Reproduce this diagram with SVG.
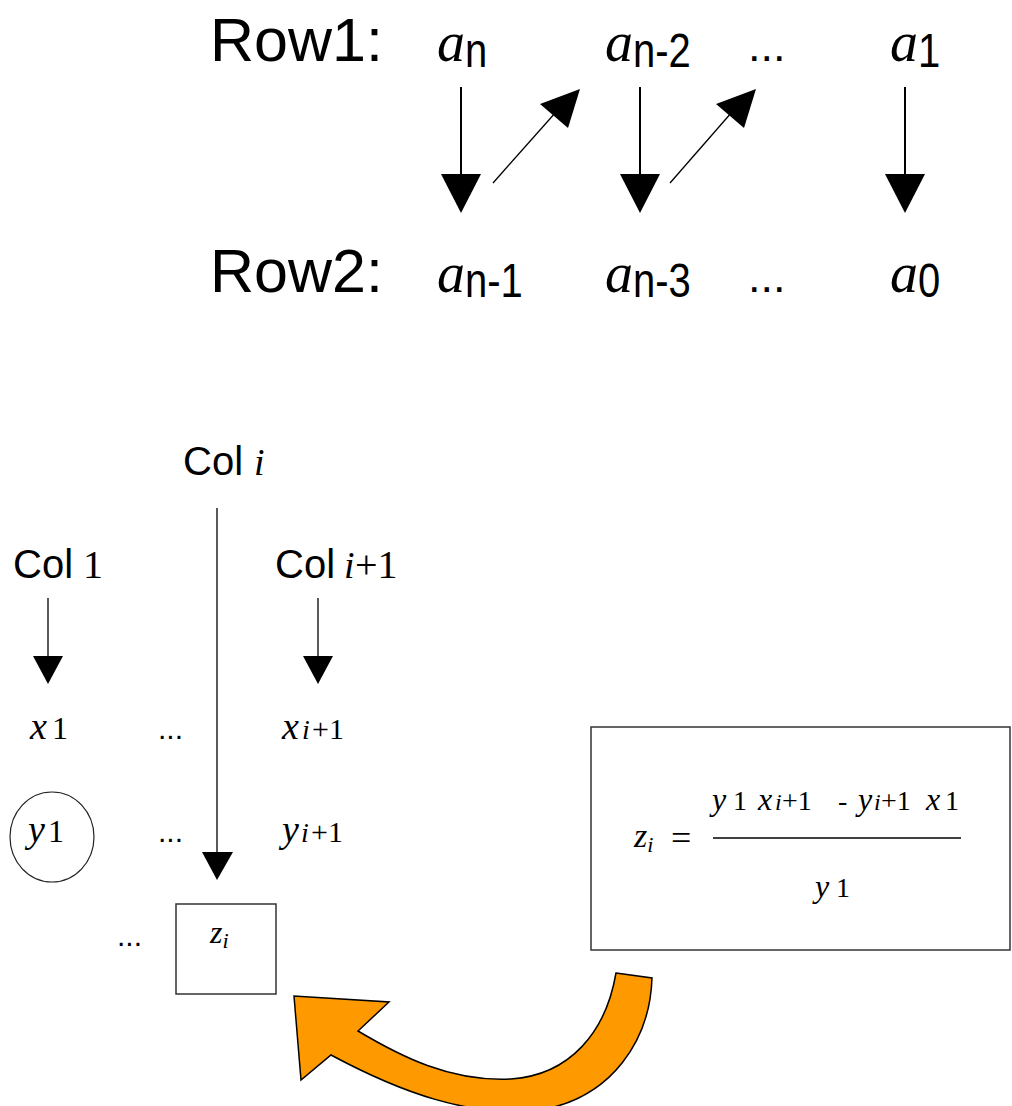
<svg xmlns="http://www.w3.org/2000/svg" width="1012" height="1106" viewBox="0 0 1012 1106">
<style>
.lbl{font-family:"Liberation Sans",Arial,sans-serif;fill:#000}
.big{font-size:61px}
.ta{font-family:"Liberation Serif",serif;font-style:italic;font-size:56px}
.ts{font-family:"Liberation Sans",Arial,sans-serif;font-size:40px}
.col{font-family:"Liberation Sans",Arial,sans-serif;font-size:40px}
.it{font-family:"Liberation Serif",serif;font-style:italic}
.rm{font-family:"Liberation Serif",serif}
.ln{stroke:#000;stroke-width:2;fill:none}
.thin{stroke:#000;stroke-width:1.3;fill:none}
.hd{fill:#000}
</style>
<rect width="1012" height="1106" fill="#fff"/>

<g id="row1">
<text class="lbl big" x="210" y="61">Row1:</text>
<text class="ta" x="437" y="61">a</text><text class="ts" transform="translate(465,67) scale(1,1.2)">n</text>
<text class="ta" x="605" y="61">a</text><text class="ts" transform="translate(633,67) scale(1,1.2)">n-2</text>
<text class="lbl" font-size="45" x="748" y="61">...</text>
<text class="ta" x="890" y="61">a</text><text class="ts" transform="translate(918,67) scale(1,1.2)">1</text>
</g>
<g id="row2">
<text class="lbl big" x="210" y="292">Row2:</text>
<text class="ta" x="437" y="292">a</text><text class="ts" transform="translate(465,297) scale(1,1.2)">n-1</text>
<text class="ta" x="605" y="292">a</text><text class="ts" transform="translate(633,297) scale(1,1.2)">n-3</text>
<text class="lbl" font-size="45" x="748" y="292">...</text>
<text class="ta" x="890" y="292">a</text><text class="ts" transform="translate(918,297) scale(1,1.2)">0</text>
</g>

<g id="col-i"><text class="col" x="183" y="475">Col <tspan class="it" x="254" font-size="38">i</tspan></text></g>
<g id="col-1"><text class="col" x="13" y="578">Col <tspan class="rm" x="83">1</tspan></text></g>
<g id="col-i1"><text class="col" x="275" y="578">Col <tspan class="it" x="344" font-size="38">i</tspan><tspan class="rm" x="355">+1</tspan></text></g>

<g id="x1"><text x="30" y="739"><tspan class="it" font-size="38">x</tspan><tspan class="rm" x="52" font-size="32">1</tspan></text></g>
<g id="dots1"><text class="lbl" font-size="30" x="158" y="739">...</text></g>
<g id="xi1"><text x="282" y="739"><tspan class="it" font-size="38">x</tspan><tspan class="it" x="302" font-size="28">i</tspan><tspan class="rm" x="312" font-size="30">+1</tspan></text></g>

<g id="y1">
<ellipse cx="52" cy="837" rx="42" ry="45" fill="none" stroke="#222" stroke-width="1.2"/>
<text x="28" y="842"><tspan class="it" font-size="38">y</tspan><tspan class="rm" x="48" font-size="32">1</tspan></text>
</g>
<g id="dots2"><text class="lbl" font-size="30" x="158" y="842">...</text></g>
<g id="yi1"><text x="282" y="842"><tspan class="it" font-size="38">y</tspan><tspan class="it" x="301" font-size="28">i</tspan><tspan class="rm" x="311" font-size="30">+1</tspan></text></g>

<g id="dots3"><text class="lbl" font-size="30" x="117" y="946">...</text></g>
<g id="zi">
<rect x="176" y="904" width="100" height="90" fill="#fff" stroke="#333" stroke-width="1.5"/>
<text x="210" y="943"><tspan class="it" font-size="32">z</tspan><tspan class="it" font-size="22" dy="5">i</tspan></text>
</g>

<g id="formula">
<rect x="591" y="727" width="419" height="223" fill="#fff" stroke="#333" stroke-width="1.5"/>
<text x="634" y="847"><tspan class="it" font-size="34">z</tspan><tspan class="it" font-size="22" dy="5">i</tspan></text>
<text class="rm" font-size="36" x="671" y="850">=</text>
<text y="810" font-size="32">
<tspan class="it" x="712">y</tspan><tspan class="rm" x="733" font-size="28">1</tspan>
<tspan class="it" x="758">x</tspan><tspan class="it" x="775" font-size="24">i</tspan><tspan class="rm" x="782" font-size="28">+1</tspan>
<tspan class="rm" x="838" font-size="28">-</tspan>
<tspan class="it" x="858">y</tspan><tspan class="it" x="874" font-size="24">i</tspan><tspan class="rm" x="881" font-size="28">+1</tspan>
<tspan class="it" x="926">x</tspan><tspan class="rm" x="945" font-size="28">1</tspan>
</text>
<line x1="713" y1="838" x2="961" y2="838" stroke="#000" stroke-width="1.3"/>
<text y="897" font-size="32"><tspan class="it" x="815">y</tspan><tspan class="rm" x="836" font-size="28">1</tspan></text>
</g>

<g id="connectors">
<line class="ln" x1="461" y1="87" x2="461" y2="176"/><polygon class="hd" points="441,174 481,174 461,213"/>
<line class="ln" x1="640" y1="87" x2="640" y2="176"/><polygon class="hd" points="620,174 660,174 640,213"/>
<line class="ln" x1="905" y1="87" x2="905" y2="176"/><polygon class="hd" points="885,174 925,174 905,213"/>
<line class="thin" x1="493" y1="183" x2="556" y2="112"/><polygon class="hd" points="580,89 540,104 568,128"/>
<line class="thin" x1="670" y1="183" x2="732" y2="112"/><polygon class="hd" points="756,89 716,104 744,128"/>

<line class="thin" x1="217" y1="508" x2="217" y2="854"/><polygon class="hd" points="202,852 233,852 217,880"/>
<line class="thin" x1="48" y1="598" x2="48" y2="658"/><polygon class="hd" points="33,656 63,656 48,684"/>
<line class="thin" x1="318" y1="598" x2="318" y2="658"/><polygon class="hd" points="303,656 333,656 318,684"/>

<path d="M616,973 L652,978 C650,1040 612,1098 540,1110 C470,1118 400,1092 331,1055 L301,1080 L294,996 L389,1002 L358,1031 C400,1056 450,1082 511,1079 C570,1075 606,1032 616,973 Z" fill="#FF9900" stroke="#000" stroke-width="1.5" stroke-linejoin="miter"/>
</g>
</svg>
